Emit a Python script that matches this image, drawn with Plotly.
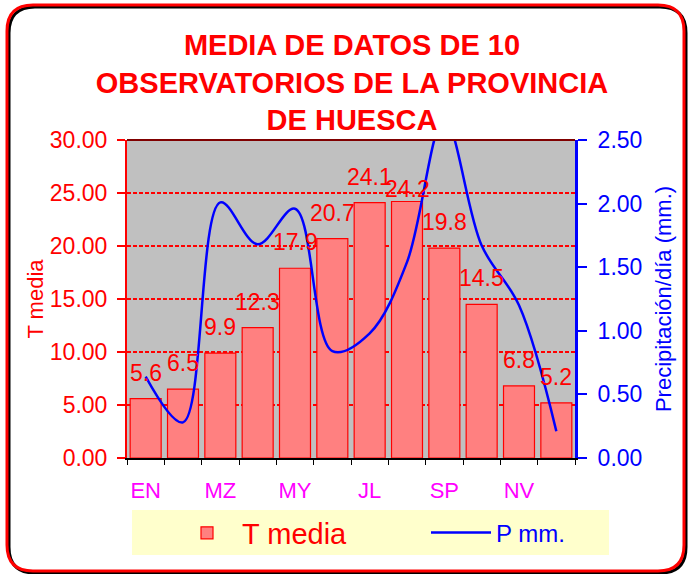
import plotly.graph_objects as go

# ---- data ----
months = ["EN", "FB", "MZ", "AB", "MY", "JN", "JL", "AG", "SP", "OC", "NV", "DC"]
tick_labels = ["EN", "", "MZ", "", "MY", "", "JL", "", "SP", "", "NV", ""]
t_media = [5.6, 6.5, 9.9, 12.3, 17.9, 20.7, 24.1, 24.2, 19.8, 14.5, 6.8, 5.2]
p_mm = [0.64, 0.28, 2.01, 1.68, 1.96, 0.84, 0.98, 1.54, 2.66, 1.67, 1.20, 0.21]

# label offsets above bars (px); the AG label sits lower in the original
label_shift = [26, 26, 26, 26, 26, 26, 26, 12, 26, 26, 26, 26]

W, H = 689, 574
L, R, T, B = 127, 114, 140, 116
PW, PH = W - L - R, H - T - B
FONT = "Arial, Liberation Sans, sans-serif"


def px(x):
    return (x - L) / PW


def py(y):
    return (H - B - y) / PH


def rounded(x0, y0, x1, y1, r):
    rx, ry = r / PW, r / PH
    a, b, c, d = px(x0), py(y1), px(x1), py(y0)  # left, bottom, right, top
    return (f"M {a+rx},{d} L {c-rx},{d} Q {c},{d} {c},{d-ry} "
            f"L {c},{b+ry} Q {c},{b} {c-rx},{b} L {a+rx},{b} "
            f"Q {a},{b} {a},{b+ry} L {a},{d-ry} Q {a},{d} {a+rx},{d} Z")


fig = go.Figure()
fig.add_trace(go.Bar(
    x=months, y=t_media, name="T media", legend="legend",
    marker=dict(color="#FF8080", line=dict(color="#FF0000", width=1.2)),
    yaxis="y",
))
fig.add_trace(go.Scatter(
    x=months, y=p_mm, name="P mm.", legend="legend2",
    mode="lines", line=dict(color="#0000FF", width=2.5, shape="spline", smoothing=1.0),
    yaxis="y2",
))

annotations = []
for m, v, s in zip(months, t_media, label_shift):
    annotations.append(dict(
        x=m, y=v, xref="x", yref="y", text=f"{v:.1f}", showarrow=False,
        yanchor="middle", xanchor="center", yshift=s,
        font=dict(family=FONT, size=23, color="#FF0000"),
    ))

shapes = [
    dict(type="path", xref="paper", yref="paper", layer="below",
         path=rounded(9, 7, 686, 573, 26), line=dict(color="black", width=3)),
    dict(type="path", xref="paper", yref="paper", layer="below",
         path=rounded(7, 5, 684, 571, 26), line=dict(color="#FF0000", width=3)),
    dict(type="line", xref="paper", yref="paper", x0=0, x1=1, y0=1, y1=1,
         line=dict(color="#800000", width=2)),
    dict(type="rect", xref="paper", yref="paper", layer="below",
         x0=px(132), x1=px(609), y0=py(555), y1=py(510),
         fillcolor="#FFFFCC", line=dict(width=0)),
]

fig.update_layout(
    width=W, height=H,
    margin=dict(l=L, r=R, t=T, b=B, autoexpand=False),
    paper_bgcolor="white", plot_bgcolor="#C0C0C0",
    font=dict(family=FONT),
    title=dict(
        text="<b>MEDIA DE DATOS DE 10<br>OBSERVATORIOS DE LA PROVINCIA<br>DE HUESCA</b>",
        x=px(352), xref="paper", xanchor="center", y=1 - 55 / H, yanchor="middle",
        font=dict(family=FONT, size=29, color="#FF0000"), automargin=False,
    ),
    bargap=0.17,
    showlegend=True,
    legend=dict(
        orientation="h", xref="container", yref="container",
        x=172 / W, xanchor="left", y=1 - 533 / H, yanchor="middle",
        bgcolor="rgba(0,0,0,0)", font=dict(family=FONT, size=29, color="#FF0000"),
        itemwidth=60,
    ),
    legend2=dict(
        orientation="h", xref="container", yref="container",
        x=426 / W, xanchor="left", y=1 - 533 / H, yanchor="middle",
        bgcolor="rgba(0,0,0,0)", font=dict(family=FONT, size=24, color="#0000FF"),
        itemwidth=60,
    ),
    xaxis=dict(
        type="category", tickvals=months, ticktext=tick_labels, tickson="boundaries",
        ticks="outside", ticklen=5, tickcolor="black", tickwidth=1,
        showline=True, linecolor="black", linewidth=2, tickangle=0, automargin=False,
        tickfont=dict(family=FONT, size=22, color="#FF00FF"),
        ticklabelstandoff=12, range=[-0.5, 11.5], showgrid=False,
    ),
    yaxis=dict(
        range=[0, 30], dtick=5, tickformat=".2f", automargin=False,
        showgrid=True, gridcolor="#FF0000", griddash="4px,2px", gridwidth=1.5,
        zeroline=False, showline=True, linecolor="#FF0000", linewidth=2,
        ticks="outside", ticklen=8, tickwidth=2, tickcolor="#FF0000",
        tickfont=dict(family=FONT, size=23, color="#FF0000"),
        ticklabelstandoff=5,
        title=dict(text="T media", font=dict(family=FONT, size=22, color="#FF0000"), standoff=0),
    ),
    yaxis2=dict(
        overlaying="y", side="right", range=[0, 2.5], dtick=0.5, tickformat=".2f",
        showgrid=False, zeroline=False, showline=True, linecolor="#0000FF", linewidth=3,
        ticks="outside", ticklen=9, tickwidth=2, tickcolor="#0000FF", automargin=False,
        tickfont=dict(family=FONT, size=23, color="#0000FF"),
        ticklabelstandoff=6,
        title=dict(text="Precipitación/día (mm.)", font=dict(family=FONT, size=22, color="#0000FF"), standoff=15),
    ),
    annotations=annotations,
    shapes=shapes,
)

fig.write_html("out.html", config={"displayModeBar": False},
               post_script="document.body.style.margin='0px';")
